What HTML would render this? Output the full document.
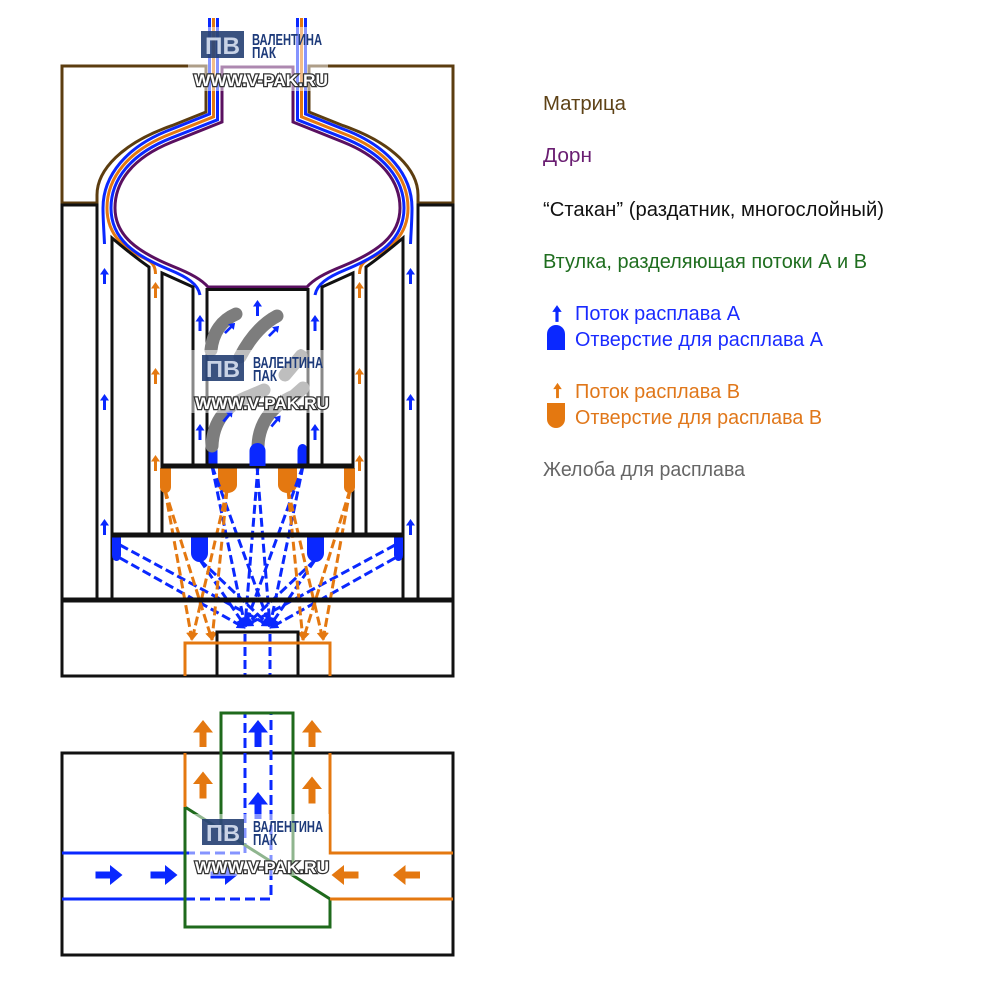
<!DOCTYPE html>
<html>
<head>
<meta charset="utf-8">
<style>
  html,body{margin:0;padding:0;background:#fff;}
  svg{display:block;}
  .lg{font-family:"Liberation Sans","Noto Sans CJK SC",sans-serif;font-size:20px;}
</style>
</head>
<body>
<svg width="1000" height="1000" viewBox="0 0 1000 1000" xmlns="http://www.w3.org/2000/svg">
<defs>
  <path id="sa" d="M0,-8 L4.5,-1.5 L1.5,-1.5 L1.5,8 L-1.5,8 L-1.5,-1.5 L-4.5,-1.5 Z"/>
  <path id="ba" d="M0,-13.5 L10,-1 L3.5,-1 L3.5,13.5 L-3.5,13.5 L-3.5,-1 L-10,-1 Z"/>
  <marker id="mb" viewBox="0 0 10 10" refX="9" refY="5" markerWidth="9" markerHeight="9" markerUnits="userSpaceOnUse" orient="auto">
    <path d="M0,0 L10,5 L0,10 Z" fill="#0a28ff"/>
  </marker>
  <marker id="mo" viewBox="0 0 10 10" refX="9" refY="5" markerWidth="9" markerHeight="9" markerUnits="userSpaceOnUse" orient="auto">
    <path d="M0,0 L10,5 L0,10 Z" fill="#e47810"/>
  </marker>
</defs>
<rect x="0" y="0" width="1000" height="1000" fill="#fff"/>

<!-- ===== UPPER DIAGRAM : left half (mirrored to right) ===== -->
<g id="L">
  <path d="M62,66 H206 V112 L172,125.6 C122,143 97,170 97,195 V203 H62 Z" fill="none" stroke="#5c3d10" stroke-width="3"/>
  <path d="M258,67 H222 V122 L172,142 C132,158 115,182 115,208 C115,236 138,252 172,266 C192,274 202,280 208,287 H258" fill="none" stroke="#5a1060" stroke-width="3"/>
  <path d="M209.5,18 V114 L172,129 C126,146 103,176 103,208 C103,220 104,232 104.5,244" fill="none" stroke="#0a28ff" stroke-width="3"/>
  <path d="M213.5,18 V116.8 L172,133.4 C128,150 107,178 107,208 C107,236 126,250 146,259 C152,262 155.5,266 155.5,274" fill="none" stroke="#e47810" stroke-width="3"/>
  <path d="M217.5,18 V119.8 L172,137.7 C130,154 111,180 111,208 C111,240 136,256 170,270 C187,277 198,284 200,295" fill="none" stroke="#0a28ff" stroke-width="3"/>

  <rect x="62" y="205" width="35" height="395" fill="none" stroke="#111" stroke-width="3"/>
  <path d="M112,600 V238 Q132,255 149,267 V535" fill="none" stroke="#111" stroke-width="3"/>
  <path d="M162,535 V273 L193,287 V466" fill="none" stroke="#111" stroke-width="3"/>

  <path d="M207.5,466 V450 A5,6 0 0 1 217.5,450 V466 Z" fill="#0a28ff"/>
  <path d="M160,468 V487 A5.5,6 0 0 0 171,487 V468 Z" fill="#e47810"/>
  <path d="M218,468 V485 A9.5,8 0 0 0 237,485 V468 Z" fill="#e47810"/>
  <path d="M112,537 V555 A4.5,6 0 0 0 121,555 V537 Z" fill="#0a28ff"/>
  <path d="M191,537 V553 A8.5,9 0 0 0 208,553 V537 Z" fill="#0a28ff"/>

  <g fill="none" stroke="#0a28ff" stroke-width="3" stroke-dasharray="9 4" marker-end="url(#mb)">
    <path d="M120,545 L270,626"/>
    <path d="M120,558 L245,628"/>
    <path d="M200,560 L245,626"/>
    <path d="M200,560 L270,626"/>
    <path d="M212,466 L245,626"/>
    <path d="M212,466 L270,626"/>
    <path d="M258,466 L245,626"/>
  </g>
  <path d="M245,634 V676" fill="none" stroke="#0a28ff" stroke-width="3" stroke-dasharray="9 4"/>
  <g fill="none" stroke="#e47810" stroke-width="3" stroke-dasharray="9 4" marker-end="url(#mo)">
    <path d="M165,490 L192,640"/>
    <path d="M165,490 L212,640"/>
    <path d="M227,490 L192,640"/>
    <path d="M227,490 L212,640"/>
  </g>

  <g fill="#0a28ff">
    <use href="#sa" transform="translate(104.5,276)"/>
    <use href="#sa" transform="translate(104.5,402)"/>
    <use href="#sa" transform="translate(104.5,527)"/>
    <use href="#sa" transform="translate(200,323)"/>
    <use href="#sa" transform="translate(200,432)"/>
  </g>
  <g fill="#e47810">
    <use href="#sa" transform="translate(155.5,290)"/>
    <use href="#sa" transform="translate(155.5,376)"/>
    <use href="#sa" transform="translate(155.5,463)"/>
  </g>
</g>
<use href="#L" transform="translate(515,0) scale(-1,1)"/>

<rect x="207" y="289.5" width="101" height="177" fill="none" stroke="#111" stroke-width="3"/>
<rect x="160.5" y="463.5" width="194" height="5" fill="#111"/>
<rect x="110.5" y="532.5" width="294" height="5" fill="#111"/>
<rect x="62" y="597.5" width="391" height="5" fill="#111"/>
<rect x="62" y="600" width="391" height="76" fill="none" stroke="#111" stroke-width="3"/>
<path d="M217,676 V632 H298 V676" fill="none" stroke="#111" stroke-width="3"/>
<path d="M185,676 V643 H330 V676" fill="none" stroke="#e47810" stroke-width="3"/>

<g fill="none" stroke="#7d7d7d" stroke-width="13" stroke-linecap="round">
  <path d="M211,350 C213,332 222,320 236,314"/>
  <path d="M240,357 C250,338 262,324 277,316"/>
  <path d="M212,446 C213,420 228,404 250,396 L264,390"/>
  <path d="M258,446 C259,420 275,404 294,396 L303,388"/>
  <path d="M285,375 L301,356"/>
</g>
<path d="M249.5,466 V451 A8,8 0 0 1 265.5,451 V466 Z" fill="#0a28ff"/>
<g fill="#0a28ff">
  <use href="#sa" transform="translate(257.5,308)"/>
  <use href="#sa" transform="translate(230,328) rotate(45) scale(0.9)"/>
  <use href="#sa" transform="translate(274,331) rotate(45) scale(0.9)"/>
  <use href="#sa" transform="translate(228,416) rotate(40) scale(0.9)"/>
  <use href="#sa" transform="translate(276,421) rotate(40) scale(0.9)"/>
</g>

<!-- ===== LOWER DIAGRAM ===== -->
<rect x="62" y="753" width="391" height="202" fill="none" stroke="#111" stroke-width="3"/>
<path d="M62,853 H185 M62,899 H185" fill="none" stroke="#0a28ff" stroke-width="3"/>
<path d="M185,853 H245 V713 M185,899 H271 V713" fill="none" stroke="#0a28ff" stroke-width="3" stroke-dasharray="10 5"/>
<path d="M221,830 V713 H293 V876" fill="none" stroke="#1f6a1c" stroke-width="3"/>
<path d="M185,807 L330,899 V927 H185 Z" fill="none" stroke="#1f6a1c" stroke-width="3"/>
<path d="M185,753 V807 M330,753 V853 H453 M330,899 H453" fill="none" stroke="#e47810" stroke-width="3"/>
<g fill="#e47810">
  <use href="#ba" transform="translate(203,733.5)"/>
  <use href="#ba" transform="translate(203,785)"/>
  <use href="#ba" transform="translate(312,733.5)"/>
  <use href="#ba" transform="translate(312,790)"/>
  <use href="#ba" transform="translate(345,875) rotate(-90)"/>
  <use href="#ba" transform="translate(406.5,875) rotate(-90)"/>
</g>
<g fill="#0a28ff">
  <use href="#ba" transform="translate(258,733.5)"/>
  <use href="#ba" transform="translate(258,805.5)"/>
  <use href="#ba" transform="translate(109,875) rotate(90)"/>
  <use href="#ba" transform="translate(164,875) rotate(90)"/>
  <use href="#ba" transform="translate(224,875) rotate(90)"/>
</g>

<!-- ===== LOGOS ===== -->
<g transform="translate(194,31)">
  <rect x="-6" y="-4" width="140" height="64" fill="#fff" opacity="0.5"/>
  <rect x="7" y="0" width="43" height="27" fill="#1f3a6e" opacity="0.88"/>
  <text x="11" y="23" font-family="Liberation Sans, sans-serif" font-weight="bold" font-size="24" fill="#c9d3e6" textLength="35" lengthAdjust="spacingAndGlyphs">ПВ</text>
  <text x="58" y="14" font-family="Liberation Sans Narrow, Liberation Sans, sans-serif" font-weight="bold" font-size="16" fill="#1d3a7a" textLength="70" lengthAdjust="spacingAndGlyphs">ВАЛЕНТИНА</text>
  <text x="58" y="27" font-family="Liberation Sans Narrow, Liberation Sans, sans-serif" font-weight="bold" font-size="16" fill="#1d3a7a" textLength="24" lengthAdjust="spacingAndGlyphs">ПАК</text>
  <text x="0" y="55" font-family="Liberation Sans, sans-serif" font-weight="bold" font-size="17" fill="#fff" stroke="#333" stroke-width="2.5" paint-order="stroke" textLength="134" lengthAdjust="spacingAndGlyphs">WWW.V-PAK.RU</text>
</g>
<g transform="translate(195,355)">
  <rect x="-6" y="-5" width="140" height="63" fill="#fff" opacity="0.5"/>
  <rect x="7" y="0" width="42" height="26" fill="#1f3a6e" opacity="0.88"/>
  <text x="11" y="22" font-family="Liberation Sans, sans-serif" font-weight="bold" font-size="23" fill="#c9d3e6" textLength="34" lengthAdjust="spacingAndGlyphs">ПВ</text>
  <text x="58" y="13" font-family="Liberation Sans Narrow, Liberation Sans, sans-serif" font-weight="bold" font-size="16" fill="#1d3a7a" textLength="70" lengthAdjust="spacingAndGlyphs">ВАЛЕНТИНА</text>
  <text x="58" y="26" font-family="Liberation Sans Narrow, Liberation Sans, sans-serif" font-weight="bold" font-size="16" fill="#1d3a7a" textLength="24" lengthAdjust="spacingAndGlyphs">ПАК</text>
  <text x="0" y="54" font-family="Liberation Sans, sans-serif" font-weight="bold" font-size="17" fill="#fff" stroke="#333" stroke-width="2.5" paint-order="stroke" textLength="134" lengthAdjust="spacingAndGlyphs">WWW.V-PAK.RU</text>
</g>
<g transform="translate(195,819)">
  <rect x="-6" y="-5" width="140" height="62" fill="#fff" opacity="0.5"/>
  <rect x="7" y="0" width="42" height="26" fill="#1f3a6e" opacity="0.88"/>
  <text x="11" y="22" font-family="Liberation Sans, sans-serif" font-weight="bold" font-size="23" fill="#c9d3e6" textLength="34" lengthAdjust="spacingAndGlyphs">ПВ</text>
  <text x="58" y="13" font-family="Liberation Sans Narrow, Liberation Sans, sans-serif" font-weight="bold" font-size="16" fill="#1d3a7a" textLength="70" lengthAdjust="spacingAndGlyphs">ВАЛЕНТИНА</text>
  <text x="58" y="26" font-family="Liberation Sans Narrow, Liberation Sans, sans-serif" font-weight="bold" font-size="16" fill="#1d3a7a" textLength="24" lengthAdjust="spacingAndGlyphs">ПАК</text>
  <text x="0" y="54" font-family="Liberation Sans, sans-serif" font-weight="bold" font-size="17" fill="#fff" stroke="#333" stroke-width="2.5" paint-order="stroke" textLength="134" lengthAdjust="spacingAndGlyphs">WWW.V-PAK.RU</text>
</g>

<!-- ===== LEGEND ===== -->
<text class="lg" x="543" y="110" fill="#5e4216" textLength="83" lengthAdjust="spacingAndGlyphs">Матрица</text>
<text class="lg" x="543" y="162" fill="#6a1e72" textLength="49" lengthAdjust="spacingAndGlyphs">Дорн</text>
<text class="lg" x="543" y="216" fill="#111" textLength="341" lengthAdjust="spacingAndGlyphs">“Стакан” (раздатник, многослойный)</text>
<text class="lg" x="543" y="268" fill="#1f6e1f" textLength="324" lengthAdjust="spacingAndGlyphs">Втулка, разделяющая потоки А и В</text>

<use href="#sa" transform="translate(557,313.5) scale(1.05)" fill="#0a28ff"/>
<text class="lg" x="575" y="320" fill="#1a2bff" textLength="165" lengthAdjust="spacingAndGlyphs">Поток расплава А</text>
<path d="M547,350 V334 A9,9 0 0 1 565,334 V350 Z" fill="#0a28ff"/>
<text class="lg" x="575" y="346" fill="#1a2bff" textLength="248" lengthAdjust="spacingAndGlyphs">Отверстие для расплава А</text>

<use href="#sa" transform="translate(557.5,390.5) scale(0.95)" fill="#e47810"/>
<text class="lg" x="575" y="398" fill="#e0771a" textLength="165" lengthAdjust="spacingAndGlyphs">Поток расплава В</text>
<path d="M547,403 V419 A9,9 0 0 0 565,419 V403 Z" fill="#e47810"/>
<text class="lg" x="575" y="424" fill="#e0771a" textLength="247" lengthAdjust="spacingAndGlyphs">Отверстие для расплава В</text>

<text class="lg" x="543" y="476" fill="#666" textLength="202" lengthAdjust="spacingAndGlyphs">Желоба для расплава</text>
</svg>
</body>
</html>
